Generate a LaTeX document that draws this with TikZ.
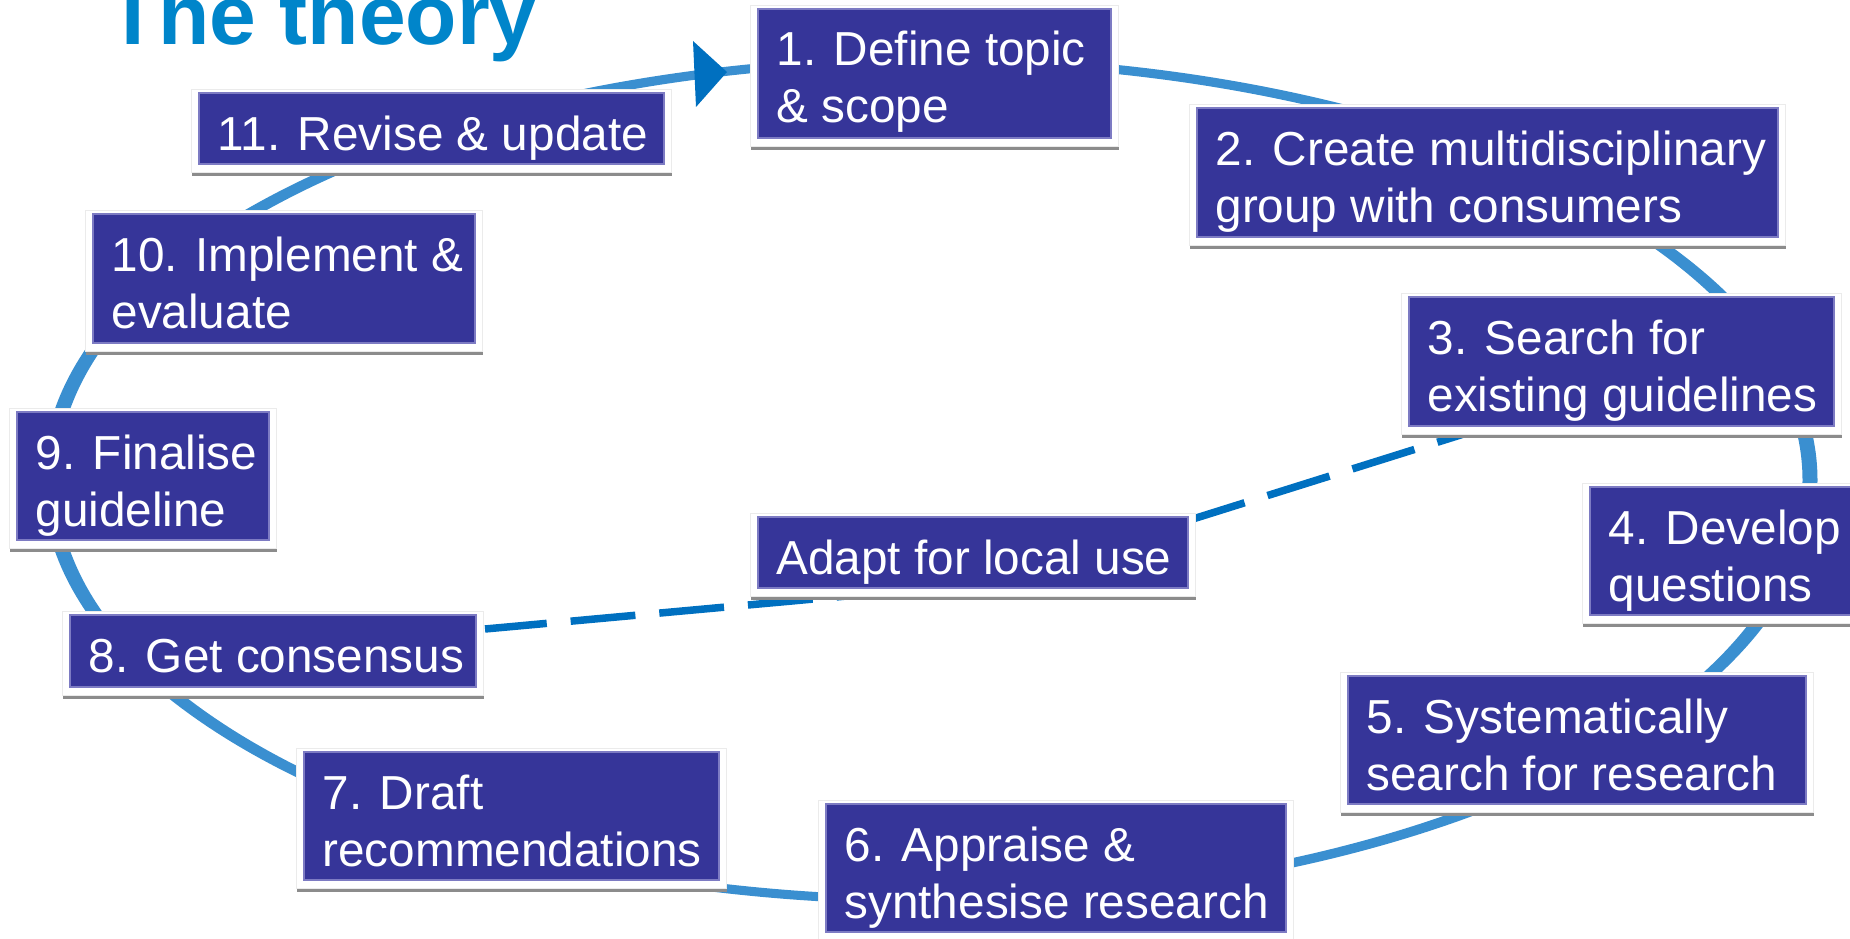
\documentclass[tikz,border=0pt]{standalone}
\usepackage{fontspec}
\setmainfont{Liberation Sans}
\definecolor{boxfill}{RGB}{54,53,153}
\definecolor{boxedge}{RGB}{125,123,195}
\definecolor{ringc}{RGB}{58,143,208}
\definecolor{dashc}{RGB}{0,112,192}
\definecolor{titlec}{RGB}{0,133,202}
\definecolor{shadowc}{RGB}{140,140,140}
\newcommand{\topS}{\rule{0pt}{57pt}}
\newcommand{\botS}{\rule[-15pt]{0pt}{15pt}}
\tikzset{
  darkbox/.style={rectangle, fill=boxfill, draw=boxedge, line width=1.2pt, inner sep=0pt, outer sep=0pt},
  steptext/.style={inner sep=0pt, outer sep=0pt, text=white, align=left, font=\fontsize{47.7}{57}\selectfont},
  framebox/.style={fill=white, draw=black!8, line width=0.8pt},
  shadowbar/.style={fill=shadowc},
  ring/.style={fill=ringc, even odd rule},
  dashline/.style={draw=dashc, line width=7.5pt, dash pattern=on 65pt off 24pt, dash phase=3pt},
  headtip/.style={fill=dashc}
}
\newcommand{\mkbox}[6]{%
  \fill[shadowbar] (#2-7.5,#3+#5+8) rectangle (#2+#4+7.5,#3+#5+12);
  \filldraw[framebox] (#2-7.5,#3-4) rectangle (#2+#4+7.5,#3+#5+8);
  \node[darkbox, minimum width=#4pt, minimum height=#5pt, anchor=north west] (#1) at (#2,#3) {};
  \node[steptext, anchor=north west] (#1t) at (#2+18.5,#3) {\topS #6\botS};
}
\begin{document}
\begin{tikzpicture}[x=1pt, y=-1pt]
\useasboundingbox (0,0) rectangle (1850,939);
\clip (0,0) rectangle (1850,939);
% title
\node[anchor=base west, inner sep=0pt, text=titlec, font=\bfseries\fontsize{84}{90}\selectfont] (title) at (107,45) {The theory};
% cycle ring
\fill[ring] (930,480) ellipse [x radius=887.5, y radius=424.5]
            (930,480) ellipse [x radius=872.5, y radius=415.5];
% arrow head
\fill[headtip] (693,41) -- (727,72) -- (696,107) -- cycle;
% dashed shortcut
\coordinate (d0) at (485,629);
\coordinate (dc) at (989,583);
\coordinate (d1) at (1470,432);
\draw[dashline] (d0) -- (dc) -- (d1);
% boxes
\mkbox{b1}{758}{9}{353}{129}{1. Define topic\\ \& scope}
\mkbox{b2}{1197}{108}{581}{129}{2. Create multidisciplinary\\ group with consumers}
\mkbox{b3}{1409}{297}{425}{129}{3. Search for\\ existing guidelines}
\mkbox{b4}{1590}{487}{290}{128}{4. Develop\\ questions}
\mkbox{b5}{1348}{676}{458}{128}{5. Systematically\\ search for research}
\mkbox{b6}{826}{804}{460}{128}{6. Appraise \&\\ synthesise research}
\mkbox{b7}{304}{752}{415}{128}{7. Draft\\ recommendations}
\mkbox{b8}{70}{615}{406}{72}{8. Get consensus}
\mkbox{b9}{17}{412}{252}{128}{9. Finalise\\ guideline}
\mkbox{b10}{93}{214}{382}{129}{10. Implement \&\\ evaluate}
\mkbox{b11}{199}{93}{465}{71}{11. Revise \& update}
\mkbox{adapt}{758}{517}{430}{71}{Adapt for local use}
\end{tikzpicture}
\end{document}
